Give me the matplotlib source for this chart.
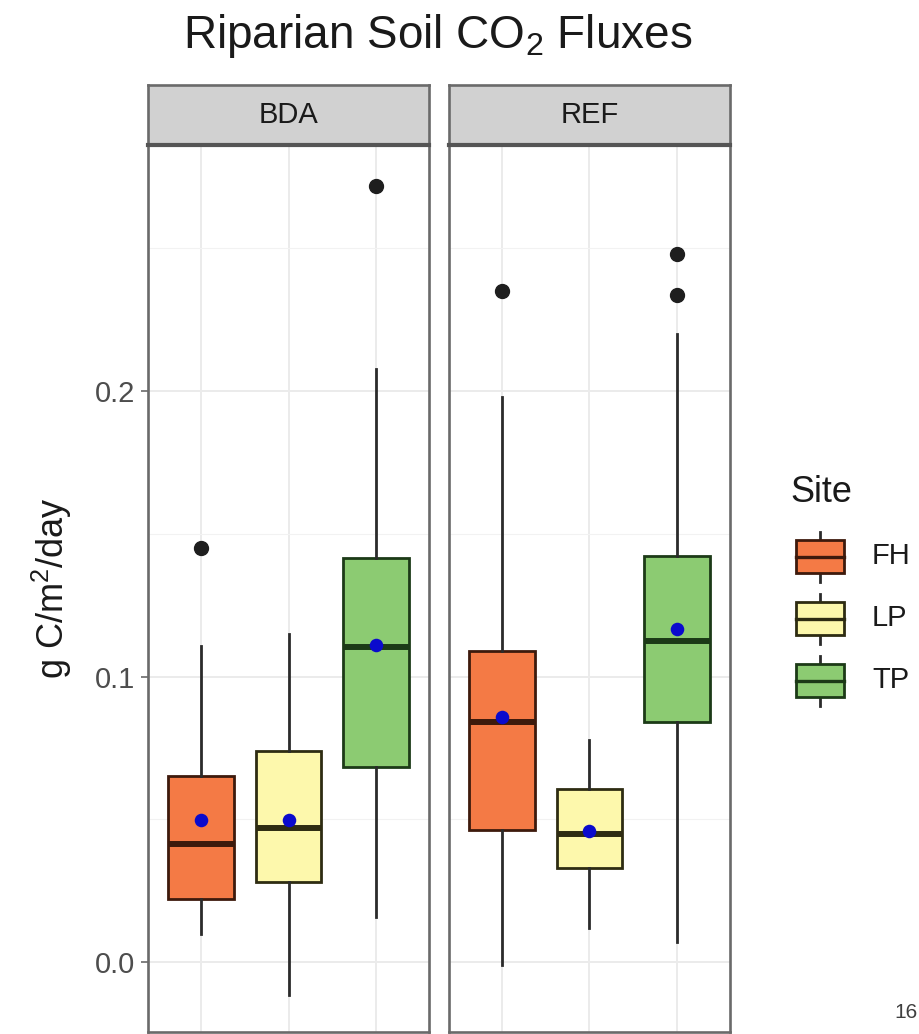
import matplotlib
matplotlib.use("Agg")
import matplotlib.pyplot as plt
from matplotlib.patches import Rectangle

plt.rcParams['font.family'] = ['Liberation Sans', 'DejaVu Sans']
plt.rcParams['mathtext.fontset'] = 'custom'
plt.rcParams['mathtext.rm'] = 'Liberation Sans'
plt.rcParams['mathtext.it'] = 'Liberation Sans:italic'

# five-number summaries per facet / site (g C/m2/day)
facets = ["BDA", "REF"]
sites = ["FH", "LP", "TP"]
fill_colors = ["#F47A45", "#FDF8AC", "#8CCB72"]
edge_colors = ["#3D1A0C", "#2E2C12", "#1C3A17"]

whislo = {"BDA": [0.0098, -0.0115, 0.0157], "REF": [-0.001, 0.0118, 0.0070]}
q1 = {"BDA": [0.0220, 0.0282, 0.0682], "REF": [0.0461, 0.0330, 0.0841]}
med = {"BDA": [0.0412, 0.0468, 0.1102], "REF": [0.0841, 0.0448, 0.1124]}
q3 = {"BDA": [0.0653, 0.0739, 0.1414], "REF": [0.1088, 0.0605, 0.1423]}
whishi = {"BDA": [0.1108, 0.1149, 0.2077], "REF": [0.1980, 0.0778, 0.2200]}
means = {"BDA": [0.0498, 0.0498, 0.1110], "REF": [0.0857, 0.0459, 0.1166]}
outliers = {"BDA": [[0.145], [], [0.272]], "REF": [[0.235], [], [0.248, 0.2335]]}

W, H = 920, 1034
fig = plt.figure(figsize=(W / 100, H / 100), dpi=100)


def fx(px):
    return px / W


def fy(px):
    return 1 - px / H


panel_x = [(148, 429), (449, 730)]
panel_top, panel_bot = 145, 1032
strip_top = 85

for i, facet in enumerate(facets):
    x0, x1 = panel_x[i]
    ax = fig.add_axes([fx(x0), fy(panel_bot), fx(x1 - x0), fy(panel_top) - fy(panel_bot)])
    ax.set_xlim(0.4, 3.6)
    ax.set_ylim(-0.0245, 0.2862)
    ax.set_axisbelow(True)

    # grid
    ax.set_yticks([0.0, 0.1, 0.2])
    ax.set_yticks([0.05, 0.15, 0.25], minor=True)
    ax.set_xticks([1, 2, 3])
    ax.grid(which='major', color='#EBEBEB', lw=1.4)
    ax.grid(which='minor', axis='y', color='#F2F2F2', lw=0.8)

    stats = []
    for j, s in enumerate(sites):
        stats.append(dict(whislo=whislo[facet][j], q1=q1[facet][j], med=med[facet][j],
                          q3=q3[facet][j], whishi=whishi[facet][j], fliers=outliers[facet][j],
                          label=s))
    bp = ax.bxp(stats, positions=[1, 2, 3], widths=0.75, patch_artist=True,
                showcaps=False, manage_ticks=False,
                flierprops=dict(marker='o', markerfacecolor='#1E1E1E', markeredgecolor='#1E1E1E',
                                markersize=10),
                whiskerprops=dict(color='#2B2B2B', lw=2.0),
                medianprops=dict(lw=4.3))
    for j in range(3):
        bp['boxes'][j].set_facecolor(fill_colors[j])
        bp['boxes'][j].set_edgecolor(edge_colors[j])
        bp['boxes'][j].set_linewidth(2.0)
        bp['medians'][j].set_color(edge_colors[j])
    ax.scatter([1, 2, 3], means[facet], s=95, color='#0A0ACD', zorder=5, linewidths=0)

    for sp in ax.spines.values():
        sp.set_color('#6A6A6A')
        sp.set_linewidth(1.9)

    ax.tick_params(axis='x', length=0, labelbottom=False)
    ax.tick_params(axis='y', which='minor', length=0)
    if i == 0:
        ax.set_yticklabels(["0.0", "0.1", "0.2"])
        ax.tick_params(axis='y', which='major', length=5, width=1.2, color='#6A6A6A',
                       labelsize=21, labelcolor='#4D4D4D', pad=4)
    else:
        ax.tick_params(axis='y', which='major', length=0, labelleft=False)

    # facet strip
    sax = fig.add_axes([fx(x0), fy(panel_top), fx(x1 - x0), fy(strip_top) - fy(panel_top)])
    sax.set_facecolor('#D1D1D1')
    sax.set_xticks([])
    sax.set_yticks([])
    for sp in sax.spines.values():
        sp.set_color('#6A6A6A')
        sp.set_linewidth(1.9)
    sax.spines['bottom'].set_linewidth(3.0)
    sax.spines['bottom'].set_color('#555555')
    sax.text(0.5, 0.5, facet, ha='center', va='center', fontsize=21, color='#1A1A1A',
             transform=sax.transAxes)

fig.text(fx(438), fy(48), "Riparian Soil CO$_2$ Fluxes", ha='center', va='baseline',
         fontsize=33, color='#1A1A1A')
fig.text(fx(52), fy(588), "g C/m$^2$/day", rotation=90, ha='center', va='center',
         fontsize=26, color='#1A1A1A')

# legend
lax = fig.add_axes([0, 0, 1, 1], facecolor='none')
lax.set_xlim(0, W)
lax.set_ylim(H, 0)
lax.axis('off')
lax.text(790, 502, "Site", ha='left', va='baseline', fontsize=26, color='#1A1A1A')
for j, s in enumerate(sites):
    cy = 556 + j * 62
    lax.plot([820, 820], [cy - 24, cy + 26], color='#2B2B2B', lw=2.0, zorder=1)
    lax.add_patch(Rectangle((796, cy - 16), 48, 33, facecolor=fill_colors[j],
                            edgecolor=edge_colors[j], lw=2.0, zorder=2))
    lax.plot([796, 844], [cy + 0.5, cy + 0.5], color=edge_colors[j], lw=2.4, zorder=3)
    lax.text(872, cy, s, ha='left', va='center', fontsize=21, color='#1A1A1A')

fig.text(fx(906), fy(1013), "16", ha='center', va='center', fontsize=15, color='#404040')

fig.savefig("out.png", dpi=100)
